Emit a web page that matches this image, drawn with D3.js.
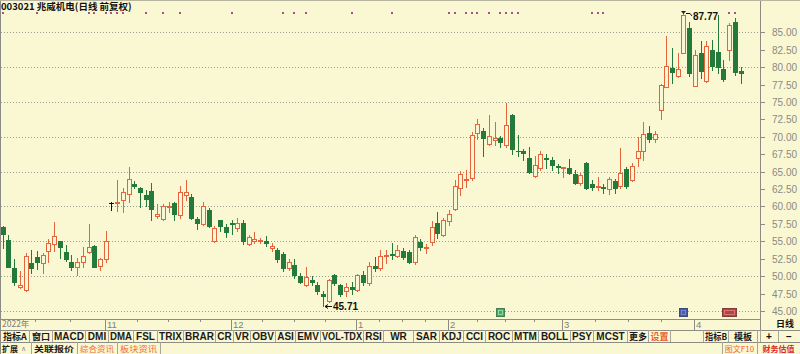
<!DOCTYPE html>
<html><head><meta charset="utf-8">
<script src="https://cdn.jsdelivr.net/npm/d3@7/dist/d3.min.js"></script>
<style>html,body{margin:0;padding:0;background:#FAF8D2;}svg{display:block;}</style>
</head><body><svg id="c" width="800" height="354"></svg>
<script>
// ---------------- data ----------------
const title = "003021 兆威机电(日线 前复权)";
const openP = [
57.1,55.2,51.2,48.5,48.0,51.9,52.8,51.9,53.6,54.6,
55.0,53.4,52.0,51.3,52.0,53.5,54.3,51.4,52.4,60.5,
60.5,60.9,61.8,63.2,62.7,61.6,62.2,58.6,58.2,59.9,
60.5,58.8,61.6,61.4,58.2,57.5,59.5,55.0,58.0,57.0,
57.7,56.9,57.7,54.6,55.1,55.1,55.0,54.0,53.8,53.2,
51.2,51.6,50.0,48.7,49.5,48.8,47.4,46.4,50.2,48.7,
47.9,48.5,48.0,50.2,49.0,51.5,51.1,52.9,53.2,52.9,
53.6,53.5,52.1,54.9,54.0,54.9,57.7,55.9,57.9,59.6,
62.7,63.8,64.1,70.6,70.8,69.0,69.5,69.9,68.8,73.2,
68.0,67.9,67.0,64.4,65.5,67.0,66.7,65.8,65.5,65.5,
64.6,63.3,66.2,63.2,62.8,62.8,62.5,63.7,62.9,65.4,
63.8,66.9,67.9,70.5,69.7,73.8,77.2,79.9,78.7,82.1,
85.6,77.3,82.0,78.0,82.4,82.2,79.8,82.5,86.5,79.4];
const highP = [
57.2,55.9,52.4,50.7,53.3,53.8,53.6,53.3,55.3,57.8,
55.1,54.5,53.1,52.6,54.2,57.5,54.5,52.6,56.5,60.6,
63.8,62.6,65.7,63.7,62.8,62.3,63.3,60.4,60.4,60.6,
60.6,62.9,63.8,61.8,58.5,60.6,59.8,57.2,58.1,57.5,
58.1,58.4,58.0,55.9,56.4,55.5,55.8,54.8,54.1,53.5,
52.4,52.4,50.4,51.3,50.0,49.2,47.8,49.6,50.3,48.9,
49.0,49.2,50.3,50.7,52.1,52.7,53.7,53.7,54.8,54.5,
54.0,53.8,55.9,55.3,54.6,57.9,59.2,58.3,59.5,63.8,
65.1,65.3,70.7,72.5,71.3,73.2,72.1,70.1,74.9,73.3,
70.3,68.2,68.5,67.3,67.9,67.6,67.1,66.1,65.7,66.8,
65.2,64.8,66.4,63.8,64.3,63.2,64.2,64.0,68.4,65.7,
66.3,70.0,72.1,71.5,70.8,77.6,84.4,82.7,82.1,87.77,
86.5,82.5,83.8,83.8,83.9,87.5,81.0,86.3,87.0,80.0];
const lowP = [
54.1,51.3,48.8,48.3,47.9,50.4,51.0,50.5,52.0,53.6,
52.6,52.2,50.9,50.2,51.3,53.3,51.3,50.9,52.1,59.5,
59.4,59.2,60.7,62.6,59.9,60.0,58.0,58.3,58.0,59.2,
58.1,58.4,60.9,58.2,56.7,57.4,57.1,54.9,56.5,55.6,
56.0,56.5,54.6,54.5,54.8,54.8,54.3,53.6,52.0,50.8,
50.9,49.7,49.0,48.6,48.7,47.5,45.71,46.3,48.8,47.2,
47.1,47.5,47.9,48.8,48.8,50.7,50.9,51.9,52.4,52.7,
52.5,51.9,51.7,53.8,53.3,54.5,55.5,55.7,57.4,59.5,
61.6,62.8,63.8,69.7,67.3,68.8,68.8,68.5,68.6,67.6,
67.3,66.7,64.8,64.2,65.3,65.5,65.3,64.8,64.2,64.7,
63.2,63.1,62.5,62.3,62.4,61.9,61.8,61.9,62.7,62.7,
63.7,65.8,66.7,69.2,69.2,72.5,77.2,77.7,78.6,82.0,
78.7,77.3,78.5,77.9,79.6,79.2,78.0,81.0,78.8,77.7];
const closeP = [
56.0,51.3,49.1,48.7,52.9,51.1,52.1,53.0,54.8,55.7,
54.2,52.5,51.3,52.1,52.9,54.2,51.3,52.4,55.1,60.5,
60.7,62.1,63.9,62.9,62.1,61.1,59.7,58.9,60.0,60.1,
58.9,62.1,62.1,58.4,57.6,60.1,57.2,56.9,57.2,56.3,
57.5,57.7,55.1,55.6,55.3,55.2,54.8,54.3,52.4,51.2,
52.1,50.2,49.1,49.9,49.1,47.8,47.1,49.4,49.0,47.5,
48.4,48.1,50.2,49.2,51.5,51.1,52.9,53.0,53.0,53.7,
52.7,52.0,55.6,54.2,54.2,57.1,56.2,58.0,58.9,63.0,
64.6,64.0,70.2,71.9,69.9,70.1,69.8,69.2,71.7,68.2,
67.9,67.7,65.0,66.0,67.6,66.8,66.0,65.6,65.6,64.8,
63.4,64.5,62.6,62.8,62.9,62.7,63.9,62.7,64.8,62.9,
65.8,67.9,70.4,69.7,70.4,77.4,80.1,79.3,79.7,87.5,
79.1,81.8,79.4,83.0,80.1,80.0,78.3,86.1,79.3,79.1];
const yearLabel = "2022年";
const monthLabels = ["11","12","1","2","3","4"];
const monthStartIdx = [18,40,62,78,98,121];
const yTickValues = d3.range(45, 85.001, 2.5);
const gridValues = d3.range(45, 85.001, 5);
const topMarkIdx = [0,6,15,16,18,19,20,21,25,28,31,40,49,51,53,61,68,78,79,81,82,83,85,87,88,89,90,103,104,105,127,128];
const eventIdx = [87,119,127];
const lowMark = {idx:56, value:45.71};
const highMark = {idx:119, value:87.77};
const toolbarLabels = ["指标A","窗口","MACD","DMI","DMA","FSL","TRIX","BRAR","CR","VR","OBV","ASI","EMV","VOL-TDX","RSI","WR","SAR","KDJ","CCI","ROC","MTM","BOLL","PSY","MCST","更多","设置","","指标B","模板"];
const row3Left = ["扩展","关联报价","综合资讯","板块资讯"];
const row3Right = ["图文F10","财务估值"];

// ---------------- layout / style ----------------
const toolbarEdges = [0,29,52,85,108,133,157,183,215,233,250,275,295,320,363,383,413,439,463,485,512,538,570,593,627,648,670,703,728,757];
const row3LeftEdges = [0,31,77,117,160];
const row3RightEdges = [722,757,800];
const BG = "#FAF8D2", UP = "#E4643C", DOWN = "#237A3A", LINE = "#8C8C84";
const CJK = "'Noto Sans CJK SC',sans-serif", LAT = "'Liberation Sans',Arial,sans-serif";
const plotRight = 760, xAxisTop = 319, row2Top = 330, row3Top = 342;
const n = openP.length;
const step = 5.72, p = 0.25;
const isCJK = s => /[\u3400-\u9fff]/.test(s);

const svg = d3.select("#c");
svg.append("rect").attr("width",800).attr("height",354).attr("fill",BG);

const x = d3.scaleBand().domain(d3.range(n))
  .range([-0.16, -0.16 + n*step]).paddingInner(p).paddingOuter(p/2);
const cx = i => Math.round(x(i) + x.bandwidth()/2);
const y = d3.scaleLinear().domain([45, 85]).range([311, 32.3]);
const ry = v => Math.round(y(v));

// grid
svg.append("g").selectAll("line").data(gridValues).join("line")
  .attr("x1",1).attr("x2",plotRight).attr("y1",d=>ry(d)+0.5).attr("y2",d=>ry(d)+0.5)
  .attr("stroke","#9C9C94").attr("stroke-dasharray","1,2");

// borders
const border = svg.append("g").attr("stroke",LINE).attr("fill","none");
border.append("line").attr("x1",0.5).attr("x2",0.5).attr("y1",0).attr("y2",354);
border.append("line").attr("x1",plotRight+0.5).attr("x2",plotRight+0.5).attr("y1",0).attr("y2",row2Top);
border.append("line").attr("x1",0).attr("x2",800).attr("y1",0.5).attr("y2",0.5).attr("stroke","#B8B6A0");
border.append("line").attr("x1",0).attr("x2",plotRight).attr("y1",xAxisTop+0.5).attr("y2",xAxisTop+0.5);
border.append("line").attr("x1",0).attr("x2",800).attr("y1",row2Top+0.5).attr("y2",row2Top+0.5);
border.append("line").attr("x1",0).attr("x2",800).attr("y1",row3Top+0.5).attr("y2",row3Top+0.5);

// title
svg.append("text").attr("x",1).attr("y",10).text(title)
  .attr("font-family",CJK).attr("font-size",9.5).attr("font-weight","bold").attr("fill","#111");

// top marks
svg.append("g").selectAll("rect").data(topMarkIdx).join("rect")
  .attr("x",d=>cx(d)-1).attr("y",12).attr("width",2).attr("height",2).attr("fill","#A8508A");

// candles
const data = d3.range(n).map(i=>({i,o:openP[i],h:highP[i],l:lowP[i],c:closeP[i]}));
const cg = svg.append("g");
data.forEach(d=>{
  const X = cx(d.i);
  const col = d.c > d.o ? UP : (d.c < d.o ? DOWN : "#111");
  cg.append("line").attr("x1",X+0.5).attr("x2",X+0.5).attr("y1",ry(d.h)).attr("y2",ry(d.l)+1)
    .attr("stroke",col);
  const top = ry(Math.max(d.o,d.c)), bot = ry(Math.min(d.o,d.c));
  if (d.c > d.o) {
    cg.append("rect").attr("x",X-2+0.5).attr("y",top+0.5).attr("width",4).attr("height",Math.max(1,bot-top))
      .attr("fill",BG).attr("stroke",col);
  } else if (d.c < d.o) {
    cg.append("rect").attr("x",X-2).attr("y",top).attr("width",5).attr("height",Math.max(1,bot-top+1))
      .attr("fill",col);
  } else {
    cg.append("rect").attr("x",X-2).attr("y",top).attr("width",5).attr("height",1).attr("fill",col);
  }
});

// extreme annotations
const lx = cx(lowMark.idx), ly = ry(lowMark.value);
svg.append("path").attr("d",`M${lx+2},${ly}.5 L${lx+9},${ly}.5 M${lx+2},${ly}.5 l3,-2 M${lx+2},${ly}.5 l3,2`)
  .attr("stroke","#111").attr("fill","none");
svg.append("text").attr("x",lx+10).attr("y",ly+4).text(lowMark.value.toFixed(2))
  .attr("font-family",LAT).attr("font-size",10).attr("font-weight","bold").attr("fill","#111");
const hx = cx(highMark.idx), hy = ry(highMark.value);
svg.append("path").attr("d",`M${hx-2},${hy-2} L${hx+3},${hy-2} L${hx+0.5},${hy+1} Z`).attr("fill","#222");
svg.append("path").attr("d",`M${hx+3},${hy}.5 L${hx+7},${hy}.5 L${hx+9},${hy+3}`).attr("stroke","#111").attr("fill","none");
svg.append("text").attr("x",hx+10).attr("y",hy+7).text(highMark.value.toFixed(2))
  .attr("font-family",LAT).attr("font-size",10).attr("font-weight","bold").attr("fill","#111");

// event icons
const evColors = ["#5C9C6C","#4C5C9C","#A04C4C"], evW = [8,8,14];
eventIdx.forEach((e,k)=>{
  const X = cx(e);
  svg.append("rect").attr("x",X-evW[k]/2+0.5).attr("y",308.5).attr("width",evW[k]).attr("height",8)
    .attr("fill",evColors[k]).attr("stroke",d3.color(evColors[k]).darker(0.6));
  svg.append("rect").attr("x",X-evW[k]/2+2.5).attr("y",310.5).attr("width",evW[k]-4).attr("height",4)
    .attr("fill","none").attr("stroke",d3.color(evColors[k]).brighter(1.2)).attr("stroke-width",0.8);
});

// right axis
const ya = svg.append("g");
ya.selectAll("line").data(yTickValues).join("line")
  .attr("x1",plotRight).attr("x2",plotRight+5).attr("y1",d=>ry(d)+0.5).attr("y2",d=>ry(d)+0.5).attr("stroke",LINE);
ya.selectAll("text").data(yTickValues).join("text")
  .attr("x",772).attr("y",d=>ry(d)+4).text(d=>d.toFixed(2))
  .attr("font-family",LAT).attr("font-size",10).attr("fill","#8A8A84");

// x axis row
const monthX = monthStartIdx.map(i=>cx(i)-1);
const xa = svg.append("g").attr("fill","#808078");
xa.append("text").attr("x",2).attr("y",327).text(yearLabel).attr("font-family",CJK).attr("font-size",8.5);
monthX.forEach((mx,k)=>{
  xa.append("line").attr("x1",mx+0.5).attr("x2",mx+0.5).attr("y1",xAxisTop).attr("y2",row2Top).attr("stroke",LINE);
  xa.append("text").attr("x",mx+2).attr("y",327.5).text(monthLabels[k]).attr("font-family",LAT).attr("font-size",9.5);
});
const qTicks = [];
[1,2].forEach(f=>qTicks.push(Math.round(monthX[0]*f/3)));
for (let k=0;k<monthX.length-1;k++) [1,2,3].forEach(f=>qTicks.push(Math.round(monthX[k]+(monthX[k+1]-monthX[k])*f/4)));
xa.selectAll("line.q").data(qTicks).join("line").attr("class","q")
  .attr("x1",d=>d+0.5).attr("x2",d=>d+0.5).attr("y1",xAxisTop).attr("y2",xAxisTop+3).attr("stroke",LINE);
svg.append("text").attr("x",785).attr("y",327).attr("text-anchor","middle").text("日线")
  .attr("font-family",CJK).attr("font-size",9).attr("font-weight","bold").attr("fill","#111");

// toolbar row 2
const tb = svg.append("g");
toolbarLabels.forEach((lab,k)=>{
  const x0 = toolbarEdges[k], x1 = toolbarEdges[k+1];
  tb.append("line").attr("x1",x1+0.5).attr("x2",x1+0.5).attr("y1",row2Top).attr("y2",row3Top).attr("stroke","#A8A69A");
  if (!lab) return;
  const cjk = isCJK(lab);
  const t = tb.append("text").attr("x",(x0+x1)/2+0.5).attr("y",340).attr("text-anchor","middle").text(lab)
    .attr("font-family",cjk?CJK:LAT).attr("font-size",cjk?9:10).attr("font-weight","bold")
    .attr("fill", lab==="设置" ? "#F05A28" : "#1A1A1A");
  const w = t.node().getComputedTextLength();
  if (w > x1-x0-3) t.attr("textLength",x1-x0-3).attr("lengthAdjust","spacingAndGlyphs");
});
[["+",760,778],["−",778,800]].forEach(([lab,a,b])=>{
  tb.append("line").attr("x1",a+0.5).attr("x2",a+0.5).attr("y1",row2Top).attr("y2",row3Top).attr("stroke","#A8A69A");
  tb.append("text").attr("x",(a+b)/2).attr("y",340).attr("text-anchor","middle").text(lab)
    .attr("font-family",LAT).attr("font-size",10).attr("font-weight","bold").attr("fill","#111");
});

// row 3
const r3 = svg.append("g").attr("font-family",CJK).attr("font-size",8);
row3Left.forEach((lab,k)=>{
  const x0=row3LeftEdges[k], x1=row3LeftEdges[k+1];
  r3.append("line").attr("x1",x1+0.5).attr("x2",x1+0.5).attr("y1",row3Top).attr("y2",354).attr("stroke","#A8A69A");
  const t = r3.append("text").attr("x",k===0?2:(x0+x1)/2).attr("y",351.5).attr("text-anchor",k===0?"start":"middle")
    .text(lab).attr("font-weight",k<2?"bold":"normal").attr("fill",k<2?"#1A1A1A":"#F06A30");
  if (k>0) { const w=t.node().getComputedTextLength(); if (w < x1-x0-6) t.attr("textLength",x1-x0-6).attr("lengthAdjust","spacingAndGlyphs"); }
  if (k===0) r3.append("text").attr("x",21).attr("y",351).text("∧").attr("fill","#888").attr("font-family",LAT).attr("font-size",7);
});
row3Right.forEach((lab,k)=>{
  const x0=row3RightEdges[k], x1=row3RightEdges[k+1];
  r3.append("line").attr("x1",x0+0.5).attr("x2",x0+0.5).attr("y1",row3Top).attr("y2",354).attr("stroke","#A8A69A");
  const t = r3.append("text").attr("x",(x0+x1)/2).attr("y",351.5).attr("text-anchor","middle").text(lab)
    .attr("fill",k===0?"#F06A30":"#E02828").attr("font-weight",k===1?"bold":"normal");
  const w = t.node().getComputedTextLength();
  if (w > x1-x0-2) t.attr("textLength",x1-x0-2).attr("lengthAdjust","spacingAndGlyphs");
});
</script></body></html>
